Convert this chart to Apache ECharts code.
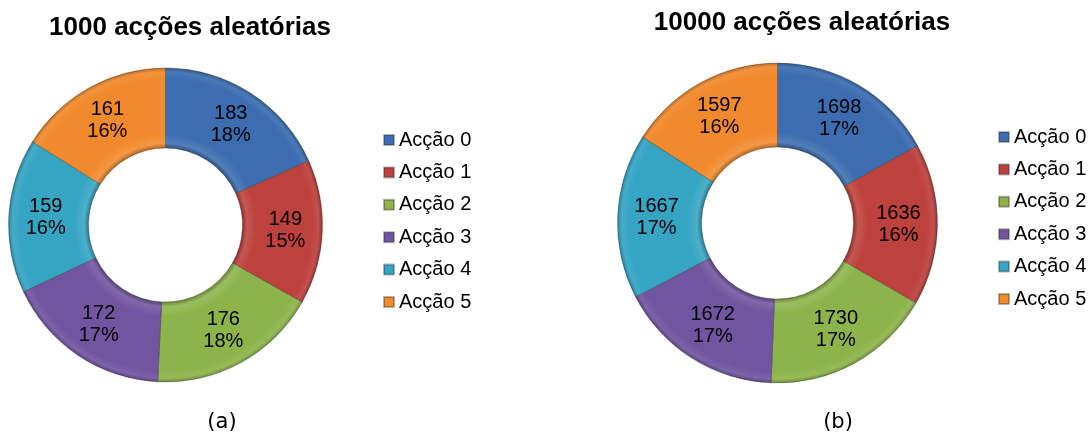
<!DOCTYPE html>
<html>
<head>
<meta charset="utf-8">
<script src="https://cdn.jsdelivr.net/npm/echarts@6/dist/echarts.min.js"></script>
<style>
  html, body { margin: 0; padding: 0; background: #fff; }
  #chart { width: 1092px; height: 437px; }
</style>
</head>
<body>
<div id="chart"></div>
<script>
// Action names shared by both donuts
const actions = ['Acção 0', 'Acção 1', 'Acção 2', 'Acção 3', 'Acção 4', 'Acção 5'];
// Times each action was picked
const counts1000 = [183, 149, 176, 172, 159, 161];
const counts10000 = [1698, 1636, 1730, 1672, 1667, 1597];
// Panel headings and captions
const titles = ['1000 acções aleatórias', '10000 acções aleatórias'];
const captions = ['(a)', '(b)'];

const palette = ['#3b6db0', '#bd413d', '#8db44b', '#7255a0', '#35a5c3', '#f18a2d'];

function shade(hex, f) {
  const n = parseInt(hex.slice(1), 16);
  let r = (n >> 16) & 255, g = (n >> 8) & 255, b = n & 255;
  const adj = c => Math.max(0, Math.min(255, Math.round(f < 0 ? c * (1 + f) : c + (255 - c) * f)));
  return 'rgb(' + adj(r) + ',' + adj(g) + ',' + adj(b) + ')';
}

// Bevelled ring fill: darker rims, soft highlight just inside the hole
function bevel(hex, cx, cy, rIn, rOut) {
  const k = rIn / rOut;
  return {
    type: 'radial', x: cx, y: cy, r: rOut, global: true,
    colorStops: [
      { offset: 0, color: shade(hex, -0.25) },
      { offset: k, color: shade(hex, -0.25) },
      { offset: k + 0.03, color: shade(hex, 0.12) },
      { offset: k + 0.09, color: hex },
      { offset: 0.93, color: hex },
      { offset: 0.975, color: shade(hex, 0.08) },
      { offset: 1, color: shade(hex, -0.2) }
    ]
  };
}

function donut(values, cx, cy, rIn, rOut) {
  const total = values.reduce((a, b) => a + b, 0);
  return {
    type: 'pie',
    center: [cx, cy],
    radius: [rIn, rOut],
    startAngle: 90,
    clockwise: true,
    avoidLabelOverlap: false,
    silent: true,
    itemStyle: { borderColor: 'rgba(40,40,40,0.35)', borderWidth: 1 },
    label: {
      show: true,
      position: 'inside',
      color: '#000',
      fontFamily: 'Liberation Sans, Arial, sans-serif',
      fontSize: 20,
      lineHeight: 22,
      formatter: p => p.value + '\n' + Math.round(p.value / total * 100) + '%'
    },
    labelLine: { show: false },
    data: actions.map((name, i) => ({
      name: name,
      value: values[i],
      itemStyle: { color: bevel(palette[i], cx, cy, rIn, rOut) }
    }))
  };
}

function legend(left, top) {
  return {
    orient: 'vertical',
    left: left,
    top: top,
    padding: 0,
    icon: 'rect',
    itemWidth: 10,
    itemHeight: 10,
    itemGap: 12.4,
    itemTextGap: 7,
    selectedMode: false,
    textStyle: {
      fontFamily: 'Liberation Sans, Arial, sans-serif',
      fontSize: 20,
      lineHeight: 20,
      color: '#000'
    },
    data: actions.map((name, i) => ({ name: name, itemStyle: { color: palette[i] } }))
  };
}

function heading(text, x, y) {
  return {
    type: 'text', x: x, y: y, silent: true,
    style: {
      text: text, align: 'center', verticalAlign: 'middle', fill: '#000',
      font: 'bold 26px "Liberation Sans", Arial, sans-serif'
    }
  };
}

function caption(text, x, y) {
  return {
    type: 'text', x: x, y: y, silent: true,
    style: {
      text: text, align: 'center', verticalAlign: 'middle', fill: '#000',
      font: '21px "DejaVu Sans", sans-serif'
    }
  };
}

const chart = echarts.init(document.getElementById('chart'), null, { renderer: 'canvas' });
chart.setOption({
  animation: false,
  backgroundColor: '#fff',
  legend: [legend(383, 130), legend(998, 127)],
  series: [
    donut(counts1000, 165.5, 225, 77, 157),
    donut(counts10000, 777.5, 223, 76, 160)
  ],
  graphic: [
    heading(titles[0], 190, 28),
    heading(titles[1], 802, 23),
    caption(captions[0], 222, 423),
    caption(captions[1], 838, 423)
  ]
});
</script>
</body>
</html>
